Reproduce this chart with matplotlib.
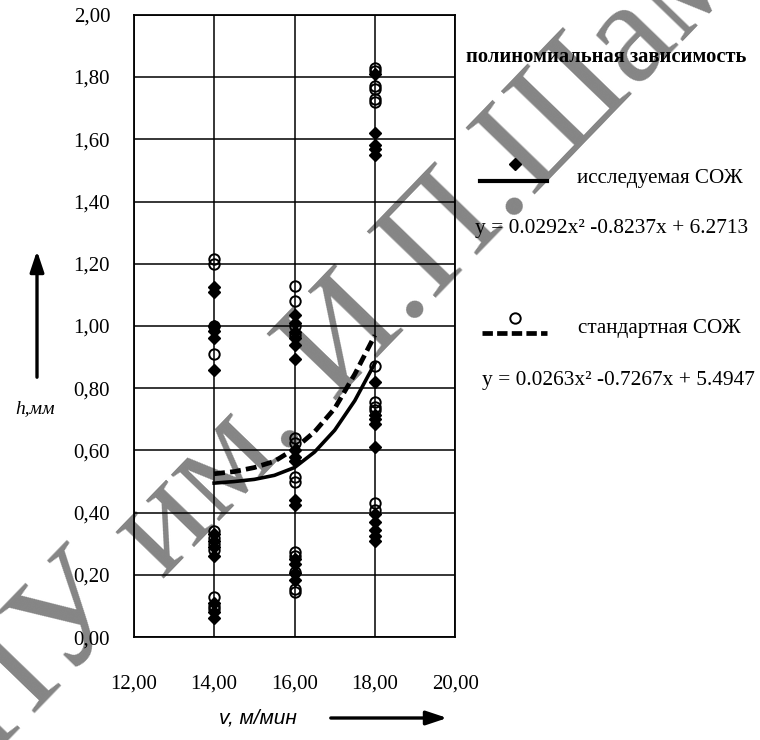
import numpy as np
import matplotlib.pyplot as plt
from matplotlib.lines import Line2D
from matplotlib.patches import FancyArrowPatch

# значения
x_ticks = [12, 14, 16, 18, 20]
x_tick_labels = ["12,00", "14,00", "16,00", "18,00", "20,00"]
y_ticks = [0.0, 0.2, 0.4, 0.6, 0.8, 1.0, 1.2, 1.4, 1.6, 1.8, 2.0]
y_tick_labels = ["0,00", "0,20", "0,40", "0,60", "0,80", "1,00",
                 "1,20", "1,40", "1,60", "1,80", "2,00"]

# исследуемая СОЖ (ромбы)
h_test_14 = [1.125, 1.11, 1.00, 0.985, 0.96, 0.86, 0.33, 0.31, 0.29, 0.26, 0.11, 0.08, 0.06]
h_test_16 = [1.035, 1.01, 0.98, 0.96, 0.94, 0.895, 0.60, 0.58, 0.565, 0.44, 0.425,
             0.25, 0.235, 0.205, 0.185]
h_test_18 = [1.81, 1.62, 1.58, 1.57, 1.55, 0.82, 0.715, 0.70, 0.685, 0.61,
             0.395, 0.37, 0.345, 0.325, 0.31]

# стандартная СОЖ (кружки)
h_std_14 = [1.215, 1.20, 1.00, 0.91, 0.34, 0.32, 0.30, 0.28, 0.13, 0.10, 0.09]
h_std_16 = [1.13, 1.08, 1.00, 0.97, 0.64, 0.625, 0.515, 0.50, 0.275, 0.26, 0.21, 0.155, 0.145]
h_std_18 = [1.83, 1.82, 1.77, 1.76, 1.73, 1.72, 0.87, 0.755, 0.74, 0.73, 0.43, 0.41]

# линии тренда
v_curve = [14.0, 14.5, 15.0, 15.5, 16.0, 16.5, 17.0, 17.5, 18.0]
h_curve_test = [0.495, 0.50, 0.507, 0.52, 0.545, 0.595, 0.665, 0.76, 0.88]
h_curve_std = [0.525, 0.532, 0.545, 0.565, 0.605, 0.66, 0.735, 0.845, 0.97]

eq_test = "y = 0.0292x\u00b2 -0.8237x + 6.2713"
eq_std = "y = 0.0263x\u00b2 -0.7267x + 5.4947"

serif = "Liberation Serif"

fig = plt.figure(figsize=(7.6, 7.4), dpi=100)

# водяной знак
fig.text(-0.21, -0.234, "МГПУ им. И.П.Шамякина", rotation=46,
         rotation_mode="anchor", ha="left", va="baseline",
         fontsize=106, family=serif, color="#858585", zorder=-1)

ax = fig.add_axes([0.176, 0.139, 0.423, 0.841])
ax.set_facecolor("none")
ax.set_xlim(12, 20)
ax.set_ylim(0, 2)
ax.set_xticks(x_ticks)
ax.set_xticklabels(x_tick_labels, family=serif, fontsize=15)
ax.set_yticks(y_ticks)
ax.set_yticklabels(y_tick_labels, family=serif, fontsize=15)
ax.tick_params(axis="y", length=0, pad=17)
ax.tick_params(axis="x", length=0, pad=27)
ax.grid(True, color="black", linewidth=1.1)
ax.set_axisbelow(True)
for s in ax.spines.values():
    s.set_linewidth(1.3)

for v, hs in [(14, h_test_14), (16, h_test_16), (18, h_test_18)]:
    ax.plot([v] * len(hs), hs, linestyle="none", marker="D", markersize=6,
            color="black", zorder=3)
for v, hs in [(14, h_std_14), (16, h_std_16), (18, h_std_18)]:
    ax.plot([v] * len(hs), hs, linestyle="none", marker="o", markersize=7.5,
            fillstyle="none", markeredgewidth=1.4, color="black", zorder=4)

ax.plot(v_curve, h_curve_test, color="black", linewidth=2.6, zorder=5)
ax.plot(v_curve, h_curve_std, color="black", linewidth=3.4, dashes=(2.3, 1.1), zorder=5)

# подписи осей и стрелки
fig.text(258 / 760, 1 - 718 / 740, "v, м/мин", family="Liberation Sans",
         style="italic", fontsize=15, ha="center", va="center")
fig.text(35 / 760, 1 - 409 / 740, "h,мм", family=serif,
         style="italic", fontsize=14, ha="center", va="center")
fig.add_artist(FancyArrowPatch(
    (328 / 760, 1 - 718 / 740), (450 / 760, 1 - 718 / 740),
    transform=fig.transFigure, arrowstyle="-|>,head_length=0.9,head_width=0.3",
    mutation_scale=14, linewidth=2.4, color="black"))
fig.add_artist(FancyArrowPatch(
    (37 / 760, 1 - 380 / 740), (37 / 760, 1 - 248 / 740),
    transform=fig.transFigure, arrowstyle="-|>,head_length=0.9,head_width=0.3",
    mutation_scale=14, linewidth=2.4, color="black"))

# легенда
fig.text(466 / 760, 1 - 57 / 740, "полиномиальная зависимость", family=serif,
         fontsize=14.8, fontweight="bold", ha="left", va="center")

fig.add_artist(Line2D([480 / 760, 547 / 760], [1 - 181 / 740] * 2,
                      transform=fig.transFigure, color="black", linewidth=3))
fig.add_artist(Line2D([515 / 760], [1 - 164 / 740], transform=fig.transFigure,
                      marker="D", markersize=6, color="black", linestyle="none"))
fig.text(577 / 760, 1 - 178 / 740, "исследуемая СОЖ", family=serif,
         fontsize=15.2, ha="left", va="center")
fig.text(475 / 760, 1 - 228 / 740, eq_test, family=serif,
         fontsize=15.4, ha="left", va="center")

fig.add_artist(Line2D([482 / 760, 547 / 760], [1 - 333 / 740] * 2,
                      transform=fig.transFigure, color="black", linewidth=3.4,
                      dashes=(2.2, 0.9)))
fig.add_artist(Line2D([515 / 760], [1 - 318 / 740], transform=fig.transFigure,
                      marker="o", markersize=7.5, fillstyle="none",
                      markeredgewidth=1.4, color="black", linestyle="none"))
fig.text(578 / 760, 1 - 328 / 740, "стандартная СОЖ", family=serif,
         fontsize=15.2, ha="left", va="center")
fig.text(482 / 760, 1 - 380 / 740, eq_std, family=serif,
         fontsize=15.4, ha="left", va="center")

fig.savefig("out.png", dpi=100)
